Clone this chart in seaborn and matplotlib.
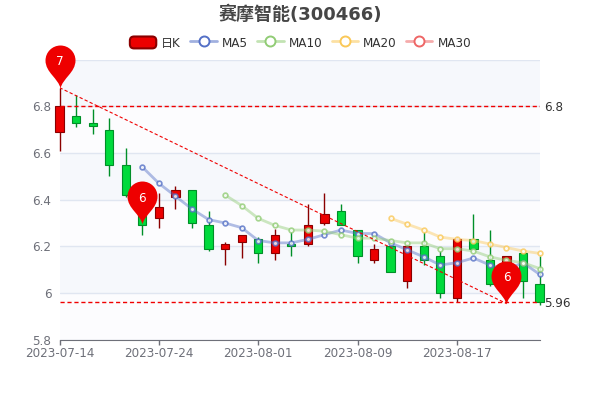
import numpy as np
import pandas as pd
import seaborn as sns
import matplotlib
matplotlib.use("Agg")
import matplotlib.pyplot as plt
from matplotlib.lines import Line2D
from matplotlib.patches import Patch, FancyBboxPatch
from matplotlib.legend_handler import HandlerPatch
from matplotlib.path import Path
from matplotlib.ticker import FixedLocator

sns.set_style("white")
plt.rcParams['font.family'] = ['DejaVu Sans', 'Noto Sans CJK SC']

title = "赛摩智能(300466)"
tick_idx = [0, 6, 12, 18, 24]
tick_labels = ["2023-07-14", "2023-07-24", "2023-08-01", "2023-08-09", "2023-08-17"]

opens = [6.69, 6.76, 6.73, 6.70, 6.55, 6.39, 6.32, 6.41, 6.44, 6.29,
         6.19, 6.22, 6.23, 6.17, 6.21, 6.21, 6.30, 6.35, 6.27, 6.14,
         6.20, 6.05, 6.20, 6.16, 5.98, 6.23, 6.14, 6.07, 6.17, 6.04]
closes = [6.80, 6.73, 6.717, 6.55, 6.42, 6.29, 6.37, 6.44, 6.30, 6.19,
          6.21, 6.25, 6.17, 6.25, 6.20, 6.29, 6.34, 6.29, 6.16, 6.19,
          6.09, 6.20, 6.14, 6.00, 6.23, 6.19, 6.04, 6.16, 6.05, 5.96]
lows = [6.61, 6.71, 6.68, 6.50, 6.41, 6.25, 6.28, 6.36, 6.28, 6.18,
        6.12, 6.15, 6.13, 6.14, 6.16, 6.20, 6.29, 6.29, 6.13, 6.13,
        6.09, 6.02, 6.12, 5.98, 5.96, 6.19, 6.03, 5.96, 5.98, 5.95]
highs = [6.88, 6.85, 6.79, 6.75, 6.62, 6.42, 6.43, 6.46, 6.44, 6.35,
         6.22, 6.25, 6.24, 6.275, 6.26, 6.38, 6.43, 6.38, 6.27, 6.21,
         6.20, 6.21, 6.26, 6.18, 6.24, 6.34, 6.27, 6.16, 6.17, 6.16]

nan = float("nan")
ma5 = [nan] * 5 + [6.54, 6.47, 6.415, 6.36, 6.315, 6.30, 6.28, 6.225, 6.215, 6.215,
                   6.23, 6.25, 6.27, 6.255, 6.255, 6.215, 6.185, 6.155, 6.12, 6.13,
                   6.15, 6.12, 6.10, 6.13, 6.08]
ma10 = [nan] * 10 + [6.42, 6.375, 6.32, 6.29, 6.27, 6.27, 6.265, 6.25, 6.235, 6.235,
                     6.225, 6.215, 6.215, 6.19, 6.19, 6.18, 6.155, 6.14, 6.13, 6.105]
ma20 = [nan] * 20 + [6.32, 6.295, 6.27, 6.24, 6.23, 6.225, 6.21, 6.195, 6.18, 6.17]
ma30 = [nan] * 30

hline_values = [6.8, 5.96]
hline_labels = ["6.8", "5.96"]
trend_start = (0, 6.88)
trend_end = (27, 5.955)
pins = [(0, 6.88, "7"), (5, 6.295, "6"), (27, 5.955, "6")]

UP, UP_EDGE = "#ec0000", "#8a0000"
DOWN, DOWN_EDGE = "#00da3c", "#008f28"
MA_COLORS = {"MA5": "#5470c6", "MA10": "#91cc75", "MA20": "#fac858", "MA30": "#ee6666"}
TICK = "#6e7079"
GRID = "#e0e6f1"

fig = plt.figure(figsize=(6, 4), dpi=100, facecolor="white")
ax = fig.add_axes([59.6 / 600, 1 - 339.7 / 400, 480 / 600, 280 / 400])
ax.set_xlim(0, 29)
ax.set_ylim(5.8, 7.0)

# alternating bands and grid
for lo_b, col in zip([5.8, 6.0, 6.2, 6.4, 6.6, 6.8],
                     ["#fcfcfe", "#f6f8fc", "#fcfcfe", "#f6f8fc", "#fcfcfe", "#f6f8fc"]):
    ax.axhspan(lo_b, lo_b + 0.2, color=col, lw=0, zorder=0)
ax.set_yticks([5.8, 6.0, 6.2, 6.4, 6.6, 6.8, 7.0])
ax.set_yticklabels(["5.8", "6", "6.2", "6.4", "6.6", "6.8", ""])
ax.grid(axis="y", color=GRID, lw=1)
ax.set_axisbelow(True)
ax.xaxis.set_major_locator(FixedLocator(tick_idx))
ax.set_xticklabels(tick_labels)
ax.tick_params(axis="x", colors=TICK, labelsize=8.64, length=3.6, width=1, pad=2, bottom=True)
ax.tick_params(axis="y", colors=TICK, labelsize=8.64, length=0, pad=6)
for s in ["top", "right", "left"]:
    ax.spines[s].set_visible(False)
ax.spines["bottom"].set_color(TICK)

# candles
x = np.arange(len(opens))
o, c, lo, hi = map(np.array, (opens, closes, lows, highs))
up = c >= o
edge = np.where(up, UP_EDGE, DOWN_EDGE)
face = np.where(up, UP, DOWN)
ax.vlines(x, lo, hi, colors=edge, lw=1, zorder=3, clip_on=False)
ax.bar(x, c - o, bottom=o, width=0.5, color=face, edgecolor=edge, lw=0.8, zorder=4, clip_on=False)

# moving averages
df = pd.DataFrame({"i": x, "MA5": ma5, "MA10": ma10, "MA20": ma20, "MA30": ma30})
long = df.melt("i", var_name="name", value_name="v").dropna()
sns.lineplot(data=long, x="i", y="v", hue="name", hue_order=list(MA_COLORS), palette=MA_COLORS,
             lw=2, alpha=0.45, legend=False, ax=ax, zorder=5, estimator=None, sort=True)
for name, col in MA_COLORS.items():
    ax.plot(df["i"], df[name], ls="none", marker="o", ms=3.4, mfc="white", mec=col, mew=1.2,
            alpha=0.8, zorder=6, clip_on=False)
ax.set_xlabel("")
ax.set_ylabel("")

# mark lines
for v, lab in zip(hline_values, hline_labels):
    ax.axhline(v, color="#f00000", lw=1, ls=(0, (3, 2)), zorder=7)
    ax.annotate(lab, (1, v), xycoords=("axes fraction", "data"), xytext=(3.6, -0.5), textcoords="offset points",
                va="center", ha="left", fontsize=8.64, color="#333333")
ax.plot([trend_start[0], trend_end[0]], [trend_start[1], trend_end[1]], color="#f00000", lw=0.8,
        ls=(0, (3, 2)), zorder=7)

# pins
verts = [(0, 0), (-2, 10), (-15, 16), (-15, 28), (-15, 36.3), (-8.3, 43), (0, 43),
         (8.3, 43), (15, 36.3), (15, 28), (15, 16), (2, 10), (0, 0), (0, 0)]
codes = [Path.MOVETO] + [Path.CURVE4] * 12 + [Path.CLOSEPOLY]
pin_path = Path(verts, codes)
for px, py, lab in pins:
    ax.plot([px], [py], marker=pin_path, ms=61.9, color="#ee0000", mew=0, ls="none", zorder=8, clip_on=False)
    ax.annotate(lab, (px, py), xytext=(0, 18.7), textcoords="offset points", ha="center", va="center",
                color="white", fontsize=8.64, zorder=9)

# legend
class RoundHandler(HandlerPatch):
    def create_artists(self, legend, orig, xd, yd, w, h, fs, trans):
        p = FancyBboxPatch((-xd + 2, -yd + 2), w - 4, h - 4, boxstyle="round,pad=2,rounding_size=3",
                           facecolor=UP, edgecolor=UP_EDGE, lw=1.5, transform=trans)
        return [p]

k_handle = Patch(facecolor=UP, edgecolor=UP_EDGE, label="日K")
handles = [k_handle]
for name, col in MA_COLORS.items():
    handles.append(Line2D([], [], color=matplotlib.colors.to_rgba(col, 0.55), lw=2, marker="o", ms=7.2,
                          mfc="white", mec=col, mew=1.4, label=name))
leg = fig.legend(handles=handles, loc="center", bbox_to_anchor=(300.5 / 600, 1 - 43 / 400), ncol=5, frameon=False,
                 fontsize=8.64, handlelength=2.2, handleheight=1.15, handletextpad=0.42, columnspacing=0.78,
                 borderpad=0, labelcolor="#333333", handler_map={k_handle: RoundHandler()})

fig.text(300 / 600, 1 - 15 / 400, title, ha="center", va="center", fontsize=12.96, fontweight="bold", color="#464646")

fig.savefig("out.png", dpi=100)
